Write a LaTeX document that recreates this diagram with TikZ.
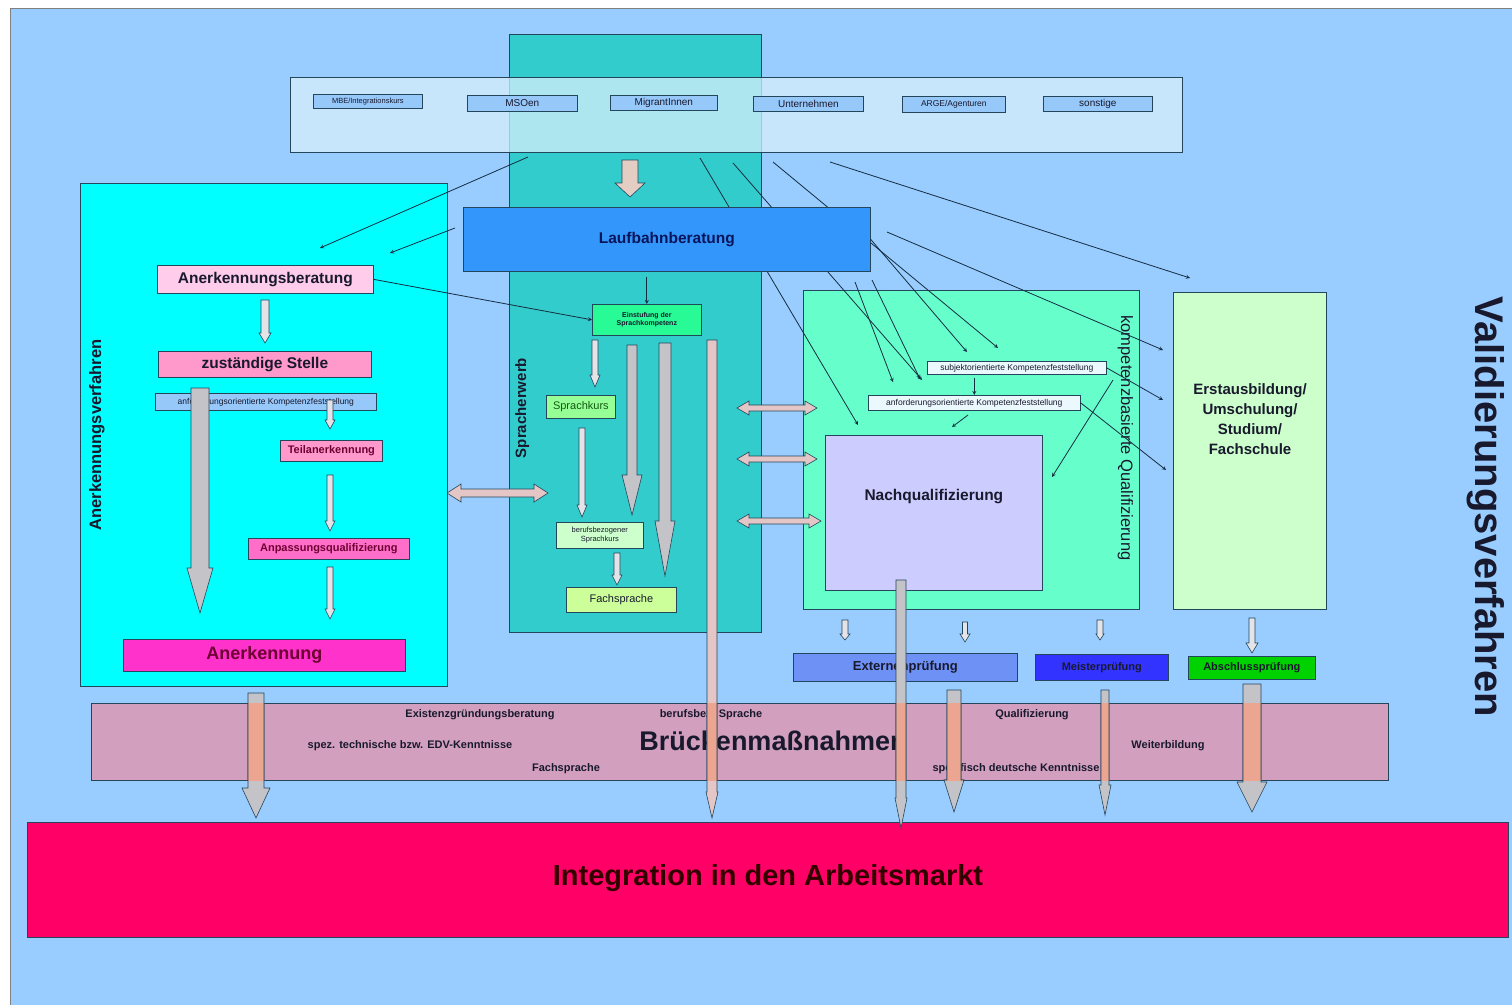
\documentclass[tikz,border=0pt]{standalone}
\usepackage{fontspec}
\setmainfont{Liberation Sans}
\usetikzlibrary{shapes,arrows,positioning,fit,calc}

\definecolor{bgblue}{RGB}{153,204,255}
\definecolor{edge}{RGB}{35,70,90}
\definecolor{barfill}{RGB}{215,240,250}
\definecolor{tagblue}{RGB}{150,200,250}
\definecolor{sprteal}{RGB}{51,204,204}
\definecolor{aqua}{RGB}{0,255,255}
\definecolor{lightpink}{RGB}{255,205,235}
\definecolor{rosa}{RGB}{255,153,204}
\definecolor{rosadark}{RGB}{255,110,200}
\definecolor{magentabox}{RGB}{255,51,204}
\definecolor{maroon}{RGB}{110,0,50}
\definecolor{laufblue}{RGB}{51,150,250}
\definecolor{navy}{RGB}{10,20,90}
\definecolor{einstgreen}{RGB}{40,250,150}
\definecolor{skgreen}{RGB}{150,255,150}
\definecolor{palegreen}{RGB}{204,255,204}
\definecolor{limegreen}{RGB}{204,255,153}
\definecolor{mint}{RGB}{102,255,204}
\definecolor{lavender}{RGB}{204,204,255}
\definecolor{extblue}{RGB}{110,145,245}
\definecolor{meisterblue}{RGB}{51,51,255}
\definecolor{absgreen}{RGB}{0,210,0}
\definecolor{mauve}{RGB}{210,160,190}
\definecolor{crimson}{RGB}{255,0,102}
\definecolor{textdark}{RGB}{25,25,45}
\definecolor{linec}{RGB}{20,45,65}
\definecolor{arrowgrey}{RGB}{195,195,200}
\definecolor{hollow}{RGB}{228,228,232}
\definecolor{salmon1}{RGB}{235,165,145}
\definecolor{peach}{RGB}{228,205,195}
\definecolor{pinkgrey}{RGB}{228,198,198}
\definecolor{darkgreen}{RGB}{20,90,20}

% block arrow pointing down: x, y top, y tip, half shaft, half head, head length, style
\newcommand{\blkdown}[7]{%
  \draw[#7] (#1-#4,#2) -- (#1+#4,#2) -- (#1+#4,#3-#6) -- (#1+#5,#3-#6) -- (#1,#3)
    -- (#1-#5,#3-#6) -- (#1-#4,#3-#6) -- cycle;}
% block arrow with two heads: y, x left, x right, half shaft, half head, head length
\newcommand{\blkboth}[6]{%
  \draw[blkh] (#2,#1) -- (#2+#6,#1-#5) -- (#2+#6,#1-#4) -- (#3-#6,#1-#4) -- (#3-#6,#1-#5)
    -- (#3,#1) -- (#3-#6,#1+#5) -- (#3-#6,#1+#4) -- (#2+#6,#1+#4) -- (#2+#6,#1+#5) -- cycle;}
% the arrows running through the Brueckenmassnahmen
\newcommand{\lowarrows}[1]{%
  \blkdown{256}{693}{818}{8}{14}{30}{big, #1}
  \blkdown{712}{340}{818}{5}{6}{26}{big, fill=pinkgrey, #1}
  \blkdown{901}{580}{828}{5}{6}{30}{big, #1}
  \blkdown{954}{690}{812}{7}{10}{32}{big, #1}
  \blkdown{1105}{690}{815}{4}{6}{30}{big, #1}
  \blkdown{1252}{684}{812}{9}{15}{30}{big, #1}}

\begin{document}
\begin{tikzpicture}[
        x=1pt, y=-1pt,
        panel/.style={rectangle, draw=edge, line width=0.8pt, anchor=north west, inner sep=0pt},
        box/.style={rectangle, draw=edge, line width=0.7pt, anchor=north west, align=center, inner sep=1pt, text=textdark},
        tag/.style={box, fill=tagblue, font=\fontsize{10}{11}\selectfont},
        lbl/.style={font=\bfseries\fontsize{11}{12}\selectfont, text=textdark},
        line/.style={->, >=stealth, line width=0.8pt, draw=linec},
        blk/.style={draw=edge, line width=0.6pt, fill=hollow},
        big/.style={draw=edge, line width=0.6pt, fill=arrowgrey},
        blkh/.style={draw=edge, line width=0.6pt, fill=pinkgrey}
    ]
    \useasboundingbox (0,0) rectangle (1512,1004);
    \fill[white] (0,0) rectangle (1512,1004);
    \draw[fill=bgblue, draw=gray, line width=0.8pt] (10,8) rectangle (1516,1008);

    % Spracherwerb
    \node[panel, fill=sprteal, minimum width=252, minimum height=598] (spr) at (509,34) {};
    \node[font=\bfseries\fontsize{15}{16}\selectfont, rotate=90, anchor=base, text=textdark] (sprl) at (526,408) {Spracherwerb};

    % Zugaenge
    \node[panel, fill=barfill, fill opacity=0.75, minimum width=892, minimum height=75] (top) at (290,77) {};
    \node[tag, minimum width=109, minimum height=14, font=\fontsize{7.5}{8}\selectfont] (q1) at (313,94) {MBE/Integrationskurs};
    \node[tag, minimum width=110, minimum height=16] (q2) at (467,95) {MSOen};
    \node[tag, minimum width=107, minimum height=15] (q3) at (610,95) {MigrantInnen};
    \node[tag, minimum width=110, minimum height=15] (q4) at (753,96) {Unternehmen};
    \node[tag, minimum width=103, minimum height=16, font=\fontsize{8.5}{9}\selectfont] (q5) at (902,96) {ARGE/Agenturen};
    \node[tag, minimum width=109, minimum height=15] (q6) at (1043,96) {sonstige};

    % Anerkennungsverfahren
    \node[panel, fill=aqua, minimum width=367, minimum height=503] (anv) at (80,183) {};
    \node[font=\bfseries\fontsize{16.5}{18}\selectfont, rotate=90, anchor=base, text=textdark] (anvl) at (101,435) {Anerkennungsverfahren};
    \node[box, fill=lightpink, minimum width=216, minimum height=28, font=\bfseries\fontsize{15.5}{16}\selectfont] (ab) at (157,265) {Anerkennungsberatung};
    \node[box, fill=rosa, minimum width=213, minimum height=26, font=\bfseries\fontsize{15.5}{16}\selectfont] (zs) at (158,351) {zuständige Stelle};
    \node[box, fill=tagblue, minimum width=221, minimum height=17, font=\fontsize{8.5}{9}\selectfont] (akl) at (155,393) {anforderungsorientierte Kompetenzfeststellung};
    \node[box, fill=rosa, minimum width=102, minimum height=21, font=\bfseries\fontsize{11}{12}\selectfont, text=maroon] (tk) at (280,440) {Teilanerkennung};
    \node[box, fill=rosadark, minimum width=161, minimum height=21, font=\bfseries\fontsize{11}{12}\selectfont, text=maroon] (aq) at (248,538) {Anpassungsqualifizierung};
    \node[box, fill=magentabox, minimum width=282, minimum height=32, font=\bfseries\fontsize{18}{20}\selectfont, text=maroon] (an) at (123,639) {Anerkennung};

    % Sprachkurse
    \node[box, fill=einstgreen, minimum width=109, minimum height=31, font=\bfseries\fontsize{7}{8}\selectfont] (einst) at (592,304) {Einstufung der\\Sprachkompetenz};
    \node[box, fill=skgreen, minimum width=69, minimum height=23, font=\fontsize{11}{12}\selectfont, text=darkgreen] (sk) at (546,395) {Sprachkurs};
    \node[box, fill=palegreen, minimum width=87, minimum height=26, font=\fontsize{7.5}{9}\selectfont] (bsk) at (556,522) {berufsbezogener\\Sprachkurs};
    \node[box, fill=limegreen, minimum width=110, minimum height=25, font=\fontsize{11}{12}\selectfont] (fs) at (566,587) {Fachsprache};

    % kompetenzbasierte Qualifizierung
    \node[panel, fill=mint, minimum width=336, minimum height=319] (kq) at (803,290) {};
    \node[font=\fontsize{16.5}{18}\selectfont, rotate=-90, anchor=base, text=textdark] (kql) at (1121,438) {kompetenzbasierte Qualifizierung};
    \node[box, fill=white!92!cyan, minimum width=179, minimum height=13, font=\fontsize{8.5}{9}\selectfont] (subj) at (927,361) {subjektorientierte Kompetenzfeststellung};
    \node[box, fill=white!92!cyan, minimum width=212, minimum height=15, font=\fontsize{8.5}{9}\selectfont] (anf) at (868,395) {anforderungsorientierte Kompetenzfeststellung};
    \node[box, fill=lavender, minimum width=217, minimum height=155, font=\bfseries\fontsize{15.5}{16}\selectfont] (nq) at (825,435) {Nachqualifizierung\\[20pt]};

    % Erstausbildung
    \node[panel, fill=palegreen, minimum width=153, minimum height=317] (ea) at (1173,292) {};
    \node[font=\bfseries\fontsize{15}{20}\selectfont, align=center, text=textdark] (eat) at (1250,419) {Erstausbildung/\\Umschulung/\\Studium/\\Fachschule};
    \node[font=\bfseries\fontsize{40}{44}\selectfont, rotate=-90, anchor=base, text=textdark] (vv) at (1475,507) {Validierungsverfahren};

    % Pruefungen
    \node[box, fill=extblue, minimum width=224, minimum height=28, font=\bfseries\fontsize{13}{14}\selectfont] (ext) at (793,653) {Externenprüfung};
    \node[box, fill=meisterblue, minimum width=133, minimum height=26, font=\bfseries\fontsize{11}{12}\selectfont] (mst) at (1035,654) {Meisterprüfung};
    \node[box, fill=absgreen, minimum width=127, minimum height=23, font=\bfseries\fontsize{11}{12}\selectfont] (abs) at (1188,656) {Abschlussprüfung};

    % Brueckenmassnahmen
    \node[panel, fill=mauve, minimum width=1297, minimum height=77] (br) at (91,703) {};
    \node[font=\bfseries\fontsize{27}{28}\selectfont, text=textdark] (brt) at (773,741) {Brückenmaßnahmen};
    \node[lbl] (br1) at (480,715) {Existenzgründungsberatung};
    \node[lbl] (br2) at (711,715) {berufsbez. Sprache};
    \node[lbl] (br3) at (410,746) {spez. technische bzw. EDV-Kenntnisse};
    \node[lbl] (br4) at (566,769) {Fachsprache};
    \node[lbl] (br5) at (1032,715) {Qualifizierung};
    \node[lbl] (br6) at (1168,746) {Weiterbildung};
    \node[lbl] (br7) at (1016,769) {spezifisch deutsche Kenntnisse};

    % Arbeitsmarkt
    \node[panel, fill=crimson, minimum width=1481, minimum height=115] (ia) at (27,822) {};
    \node[font=\bfseries\fontsize{29}{30}\selectfont, text=black!80!red] (iat) at (768,878) {Integration in den Arbeitsmarkt};

    % connector ends
    \coordinate (t1) at (528,157); \coordinate (e1) at (320,248);
    \coordinate (t2) at (455,228); \coordinate (e2) at (390,253);
    \coordinate (tA) at (700,158); \coordinate (eA) at (858,425);
    \coordinate (tB) at (733,163); \coordinate (eB) at (922,380);
    \coordinate (tC) at (773,162); \coordinate (eC) at (998,348);
    \coordinate (tD) at (830,162); \coordinate (eD) at (1190,278);
    \coordinate (sE) at (887,232); \coordinate (eE) at (1163,350);
    \coordinate (eF) at (967,352);
    \coordinate (sG) at (855,282); \coordinate (eG) at (893,382);
    \coordinate (sH) at (872,280); \coordinate (eH) at (920,379);
    \coordinate (eI) at (1163,400);
    \coordinate (eJ) at (1166,470);
    \coordinate (sK) at (1113,380); \coordinate (eK) at (1052,477);
    \coordinate (sL) at (968,415); \coordinate (eL) at (952,427);

    % lines behind Laufbahnberatung
    \draw[line] (t1) -- (e1);
    \draw[line] (tA) -- (eA);
    \draw[line] (tB) -- (eB);
    \draw[line] (tC) -- (eC);
    \draw[line] (tD) -- (eD);

    % Laufbahnberatung
    \node[box, fill=laufblue, minimum width=407, minimum height=64, font=\bfseries\fontsize{15.5}{16}\selectfont, text=navy] (lauf) at (463,207) {Laufbahnberatung};

    \draw[line] (t2) -- (e2);
    \draw[line] (ab.east) -- (einst.west);
    \draw[line, shorten <=5pt] (einst.north |- lauf.south) -- (einst.north);
    \draw[line] (sE) -- (eE);
    \draw[line] (lauf.east) -- (eF);
    \draw[line] (sG) -- (eG);
    \draw[line] (sH) -- (eH);
    \draw[line] (subj.east) -- (eI);
    \draw[line] (anf.east) -- (eJ);
    \draw[line] (sK) -- (eK);
    \draw[line, shorten <=3pt] (anf.north |- subj.south) -- (anf.north);
    \draw[line] (sL) -- (eL);

    % block arrows
    \blkdown{630}{160}{197}{8}{15}{14}{blk, fill=peach}
    \blkdown{265}{300}{343}{4}{6}{10}{blk}
    \blkdown{330}{400}{429}{3}{5}{9}{blk}
    \blkdown{330}{475}{531}{3}{5}{10}{blk}
    \blkdown{330}{567}{619}{3}{5}{10}{blk}
    \blkdown{200}{388}{613}{9}{13}{45}{big}
    \blkdown{595}{340}{387}{3}{5}{12}{blk}
    \blkdown{582}{428}{517}{3}{5}{12}{blk}
    \blkdown{617}{553}{585}{3}{5}{10}{blk}
    \blkdown{632}{345}{515}{5}{10}{40}{big}
    \blkdown{665}{343}{576}{6}{10}{55}{big}
    \blkdown{845}{620}{640}{3}{5}{6}{blk}
    \blkdown{965}{622}{642}{2.5}{5}{8}{blk}
    \blkdown{1100}{620}{640}{3}{4}{6}{blk}
    \blkdown{1252}{618}{653}{3}{6}{10}{blk}
    \blkboth{493}{447}{548}{4}{9}{14}
    \blkboth{408}{737}{817}{3}{7}{12}
    \blkboth{459}{737}{817}{3}{7}{12}
    \blkboth{521}{737}{821}{3}{7}{12}
    \lowarrows{}
    \begin{scope}
        \clip (br.north west) rectangle (br.south east);
        \lowarrows{fill=salmon1}
    \end{scope}

\end{tikzpicture}
\end{document}
